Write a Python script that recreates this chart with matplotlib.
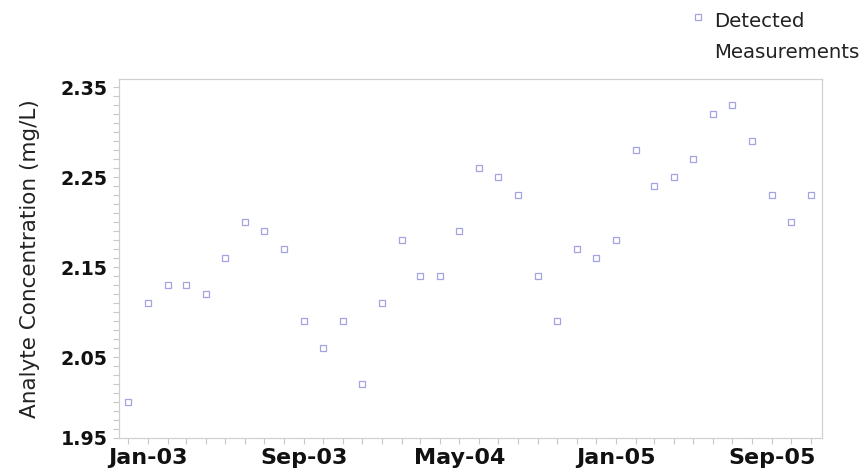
import pandas as pd
import matplotlib
matplotlib.use("Agg")
import matplotlib.pyplot as plt
import matplotlib.dates as mdates
from matplotlib.ticker import FixedLocator

### data (monthly samples, Dec-02 .. Nov-05)
months = pd.date_range("2002-12-01", periods=36, freq="MS")
conc = [2.00, 2.11, 2.13, 2.13, 2.12, 2.16, 2.20, 2.19, 2.17, 2.09,
        2.06, 2.09, 2.02, 2.11, 2.18, 2.14, 2.14, 2.19, 2.26, 2.25,
        2.23, 2.14, 2.09, 2.17, 2.16, 2.18, 2.28, 2.24, 2.25, 2.27,
        2.32, 2.33, 2.29, 2.23, 2.20, 2.23]

x_label_months = ["2003-01-01", "2003-09-01", "2004-05-01", "2005-01-01", "2005-09-01"]
x_labels = ["Jan-03", "Sep-03", "May-04", "Jan-05", "Sep-05"]
y_ticks = [1.96, 2.05, 2.15, 2.25, 2.35]
y_labels = ["1.95", "2.05", "2.15", "2.25", "2.35"]

plt.rcParams['font.family'] = ['DejaVu Sans']

fig = plt.figure(figsize=(8.63, 4.75), dpi=100)
ax = fig.add_axes([0.1379, 0.0779, 0.8146, 0.7558])

mk = '#a3a3e0'
ax.plot(months, conc, linestyle='none', marker='s', markersize=5,
        markerfacecolor='white', markeredgecolor=mk, markeredgewidth=0.9)

# axes limits
ax.set_xlim(months[0] - pd.Timedelta(days=14), months[-1] + pd.Timedelta(days=17))
ax.set_ylim(1.96, 2.359)

# x ticks: minor every month, labels every 8 months
ax.xaxis.set_minor_locator(FixedLocator(mdates.date2num(months)))
ax.set_xticks(mdates.date2num(pd.to_datetime(x_label_months)))
ax.set_xticklabels(x_labels, fontsize=16, fontweight='bold', color='#111111')

# y ticks: minor every 0.01
ax.yaxis.set_minor_locator(FixedLocator([1.96 + 0.01 * i for i in range(40)]))
ax.set_yticks(y_ticks)
ax.set_yticklabels(y_labels, fontsize=13.7, fontweight='bold', color='#111111')

ax.tick_params(which='both', color='#c8c8c8', width=0.8)
ax.tick_params(axis='x', which='both', length=4, pad=3)
ax.tick_params(axis='y', which='both', length=4, pad=4)

for s in ax.spines.values():
    s.set_color('#d0d0d0')
    s.set_linewidth(0.9)

ax.set_ylabel("Analyte Concentration (mg/L)", fontsize=15.5, labelpad=15, color='#222222')

# legend drawn by hand at top right
fig.lines.append(plt.Line2D([698 / 863], [1 - 17 / 475], transform=fig.transFigure,
                            linestyle='none', marker='s', markersize=5,
                            markerfacecolor='white', markeredgecolor=mk,
                            markeredgewidth=0.9))
fig.text(714 / 863, 1 - 27 / 475, "Detected", fontsize=14.2, va='baseline', ha='left', color='#222222')
fig.text(714 / 863, 1 - 58 / 475, "Measurements", fontsize=14.2, va='baseline', ha='left', color='#222222')

fig.savefig("out.png", dpi=100)
